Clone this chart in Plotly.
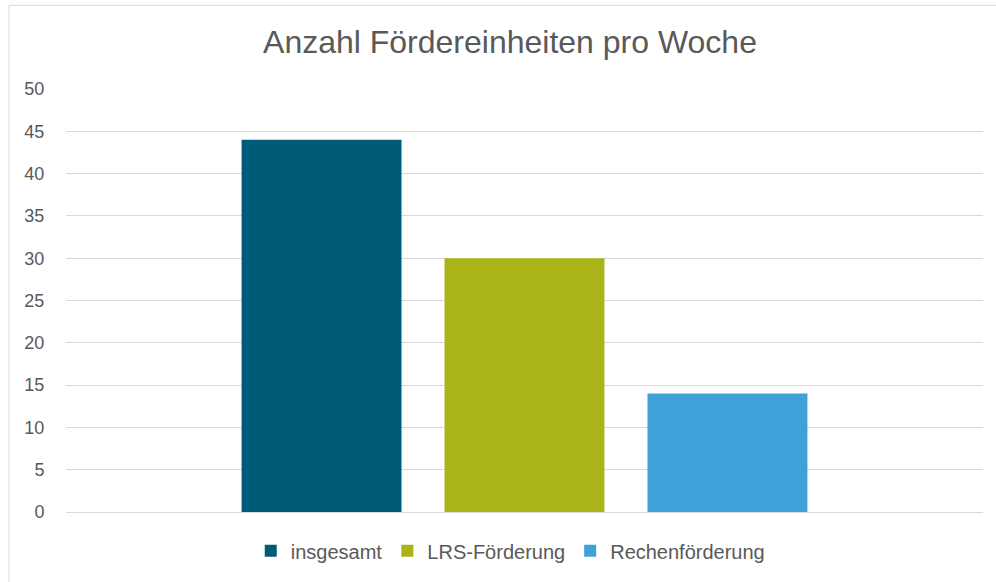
import plotly.graph_objects as go

categories = [""]
series_names = ["insgesamt", "LRS-Förderung", "Rechenförderung"]
series_values = [44, 30, 14]
colors = ["#005B78", "#A9B418", "#3FA1D8"]
y_ticks = [0, 5, 10, 15, 20, 25, 30, 35, 40, 45, 50]

fig = go.Figure()
for name, val, col in zip(series_names, series_values, colors):
    fig.add_trace(go.Bar(x=categories, y=[val], name=name, marker_color=col,
                         marker_line_width=0))

W, H = 996, 582
L, R, T, B = 66, 13, 89, 68
ph = H - T - B
pw = W - L - R

fig.update_layout(
    width=W, height=H,
    margin=dict(l=L, r=R, t=T, b=B),
    paper_bgcolor="white", plot_bgcolor="white",
    barmode="group", bargap=0.336, bargroupgap=0.212,
    font=dict(family="Liberation Sans, Arial, sans-serif", color="#595959", size=18),
    title=dict(text="Anzahl Fördereinheiten pro Woche", x=510 / W, xanchor="center",
               y=1 - 42 / H, yanchor="middle",
               font=dict(size=32, color="#595959")),
    showlegend=True,
    legend=dict(orientation="h", x=0.485, xanchor="center", y=-(553 - (T + ph)) / ph,
                yanchor="middle", font=dict(size=20, color="#595959"),
                itemwidth=30, traceorder="normal"),
    xaxis=dict(showgrid=False, showticklabels=False, ticks="", showline=False, zeroline=False),
    yaxis=dict(range=[0, 50], tickvals=y_ticks, showgrid=True, gridcolor="#D9D9D9", gridwidth=1,
               zeroline=True, zerolinecolor="#D9D9D9", zerolinewidth=1,
               ticks="outside", ticklen=17, tickcolor="rgba(0,0,0,0)",
               tickfont=dict(size=18, color="#595959"), showline=False),
    shapes=[dict(type="rect", xref="paper", yref="paper",
                 x0=(9 - L) / pw, x1=(W + 5 - L) / pw,
                 y0=(T + ph - (H + 5)) / ph, y1=(T + ph - 5) / ph,
                 line=dict(color="#D9D9D9", width=1), fillcolor="rgba(0,0,0,0)", layer="below")],
)

fig.write_html("out.html")
